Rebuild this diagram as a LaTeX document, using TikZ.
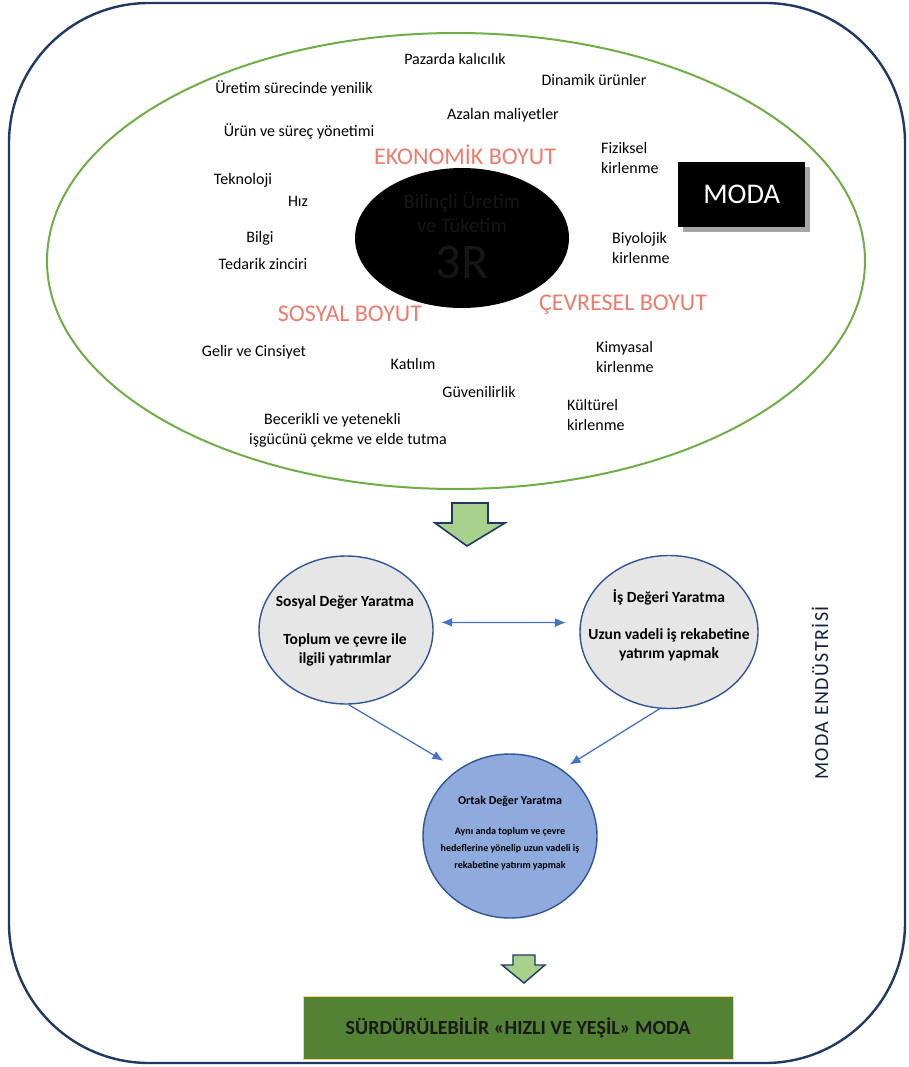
\documentclass[tikz,border=0pt]{standalone}
\usepackage{fontspec}
\setmainfont{Carlito}
\usetikzlibrary{arrows.meta,shapes.geometric}
\definecolor{navy}{HTML}{1F3864}
\definecolor{lgreen}{HTML}{70AD47}
\definecolor{salmon}{HTML}{EE7B6C}
\definecolor{cblue}{HTML}{4472C4}
\definecolor{cborder}{HTML}{2F5597}
\definecolor{cgray}{HTML}{E7E6E6}
\definecolor{cmid}{HTML}{8FAADC}
\definecolor{arrowfill}{HTML}{A9D18E}
\definecolor{boxgreen}{HTML}{548235}
\definecolor{boxedge}{HTML}{FFD966}
\definecolor{hidden}{HTML}{161616}
\tikzset{
  small/.style={font=\fontsize{16}{20}\selectfont, inner sep=0pt},
  smallL/.style={small, align=left, anchor=west},
  dimtitle/.style={font=\fontsize{24}{26}\selectfont, text=salmon, inner sep=0pt},
  valcircle/.style={ellipse, draw=cborder, line width=1.4pt, fill=cgray, inner sep=0pt},
  ctext/.style={font=\bfseries\fontsize{15.5}{19}\selectfont, align=center, inner sep=0pt},
  otext/.style={font=\bfseries\fontsize{10}{17}\selectfont, align=center, inner sep=0pt},
  conn/.style={draw=cblue, line width=1.3pt, -{Latex[length=11pt,width=9pt]}},
  conn2/.style={draw=cblue, line width=1.3pt, {Latex[length=11pt,width=9pt]}-{Latex[length=11pt,width=9pt]}},
  blockarrow/.style={draw=navy, line width=1.6pt, fill=arrowfill, line join=miter},
}
\begin{document}
\begin{tikzpicture}[x=1pt,y=-1pt]
\useasboundingbox (0,0) rectangle (909,1067);
% outer frame
\draw[navy, line width=2.4pt, rounded corners=140pt] (9,3) rectangle (905,1063);
% green ellipse
\node (ell) [ellipse, draw=lgreen, line width=2pt, minimum width=818pt, minimum height=456pt, inner sep=0pt] at (456,261) {};
% black ellipse
\fill[black] (462,238) ellipse [x radius=107, y radius=70];
\node (bil1) [font=\fontsize{20.5}{22}\selectfont, text=hidden, inner sep=0pt] at (462,202) {Bilinçli Üretim};
\node (bil2) [font=\fontsize{20.5}{22}\selectfont, text=hidden, inner sep=0pt] at (462,225) {ve Tüketim};
\node (bil3) [font=\fontsize{50}{52}\selectfont, text=hidden, inner sep=0pt] at (462,262) {3R};
% MODA box
\fill[black!35] (683,167) rectangle (810,232);
\node (moda) [fill=black, minimum width=127pt, minimum height=65pt, inner sep=0pt, text=white, font=\fontsize{28.5}{30}\selectfont, anchor=north west] at (678,162) {MODA};
% labels
\node[small] (t1) at (455,59) {Pazarda kalıcılık};
\node[small] (t2) at (594,80) {Dinamik ürünler};
\node[small] (t3) at (294,88) {Üretim sürecinde yenilik};
\node[small] (t4) at (503,115) {Azalan maliyetler};
\node[small] (t5) at (299,131) {Ürün ve süreç yönetimi};
\node[dimtitle] (eko) at (465,155) {EKONOMİK BOYUT};
\node[smallL] (t6) at (601,158) {Fiziksel\\kirlenme};
\node[small] (t7) at (243,180) {Teknoloji};
\node[small] (t8) at (298,201) {Hız};
\node[small] (t9) at (260,238) {Bilgi};
\node[small] (t10) at (263,264) {Tedarik zinciri};
\node[smallL] (t11) at (612,248) {Biyolojik\\kirlenme};
\node[dimtitle] (sos) at (350,314) {SOSYAL BOYUT};
\node[dimtitle] (cev) at (623,305) {ÇEVRESEL BOYUT};
\node[small] (t12) at (254,352) {Gelir ve Cinsiyet};
\node[small] (t13) at (413,364) {Katılım};
\node[smallL] (t14) at (596,357) {Kimyasal\\kirlenme};
\node[small] (t15) at (479,392) {Güvenilirlik};
\node[smallL] (t16) at (567,415) {Kültürel\\kirlenme};
\node[small, anchor=west] (t17) at (264,420) {Becerikli ve yetenekli};
\node[small, anchor=west] (t18) at (249,440) {işgücünü çekme ve elde tutma};
% block arrow 1
\draw[blockarrow] (452,503) -- (488,503) -- (488,523) -- (505,523) -- (467,546) -- (435,523) -- (452,523) -- cycle;
% circles
\node[valcircle, minimum width=174pt, minimum height=148pt] (sdy) at (346,630) {};
\node[ctext] at (345,602) {Sosyal Değer Yaratma};
\node[ctext] at (345,650) {Toplum ve çevre ile\\ilgili yatırımlar};
\node[valcircle, minimum width=178pt, minimum height=153pt] (idy) at (669,632) {};
\node[ctext] at (669,597) {İş Değeri Yaratma};
\node[ctext] at (669,645) {Uzun vadeli iş rekabetine\\yatırım yapmak};
\node[valcircle, fill=cmid, minimum width=174pt, minimum height=164pt] (ody) at (510,836) {};
\node[otext, font=\bfseries\fontsize{12}{17}\selectfont] at (510,801) {Ortak Değer Yaratma};
\node[otext] at (510,849) {Aynı anda toplum ve çevre\\hedeflerine yönelip uzun vadeli iş\\rekabetine yatırım yapmak};
% connectors
\draw[conn2, shorten <=8pt, shorten >=14pt] (sdy.5) -- (idy.174);
\draw[conn, shorten >=17pt] (sdy.-88) -- (ody.128);
\draw[conn, shorten >=9pt] (idy.-97) -- (ody.52);
% vertical label
\node (ind) [rotate=90, font=\fontsize{20}{22}\selectfont\addfontfeature{LetterSpace=7}, text=navy!60!black, inner sep=0pt] at (820,693) {MODA ENDÜSTRİSİ};
% block arrow 2
\draw[blockarrow, line width=1.4pt] (513,955) -- (535,955) -- (535,965) -- (545,965) -- (524,983) -- (502,965) -- (513,965) -- cycle;
% final box
\node (final) [draw=boxedge, line width=1pt, fill=boxgreen, minimum width=430pt, minimum height=63pt, inner sep=0pt, font=\bfseries\fontsize{20}{22}\selectfont, text=black!90] at (518,1028) {SÜRDÜRÜLEBİLİR «HIZLI VE YEŞİL» MODA};
\end{tikzpicture}
\end{document}
